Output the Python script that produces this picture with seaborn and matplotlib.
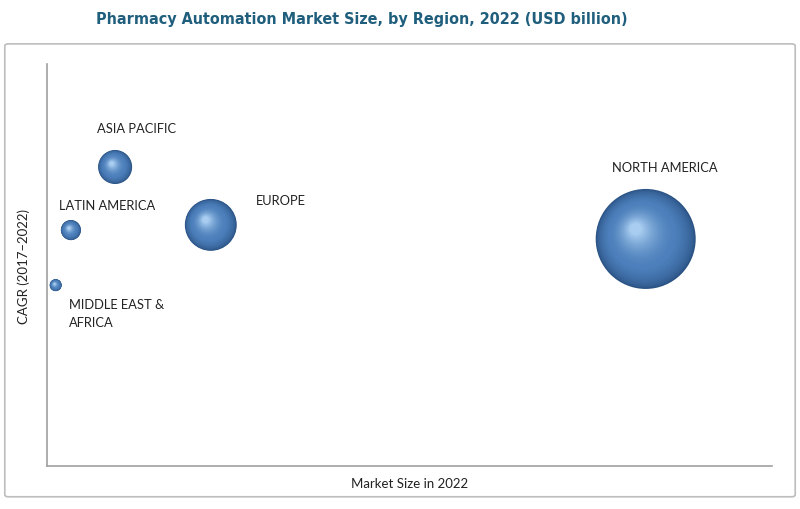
import numpy as np
import pandas as pd
import matplotlib
matplotlib.use("Agg")
import matplotlib.pyplot as plt
import seaborn as sns
from matplotlib.path import Path
from matplotlib.markers import MarkerStyle
from matplotlib.patches import FancyBboxPatch
from matplotlib.colors import to_rgb

# data (relative units)
regions = ["NORTH AMERICA", "EUROPE", "ASIA PACIFIC", "LATIN AMERICA", "MIDDLE EAST &\nAFRICA"]
market_size = [82.6, 22.6, 9.4, 3.3, 1.2]     # x position
cagr = [56.5, 60.0, 74.4, 58.7, 45.0]          # y position
bubble = [5.2, 1.4, 0.6, 0.21, 0.075]          # bubble area

df = pd.DataFrame({"region": regions, "size": market_size, "cagr": cagr, "bubble": bubble})

sns.set_style("white")
plt.rcParams["font.family"] = ["Lato", "DejaVu Sans"]

fig = plt.figure(figsize=(8, 5.1), dpi=100)
ax = fig.add_axes([0.05875, 0.0843, 0.906, 0.788])

# outer frame
fig.patches.append(FancyBboxPatch((0.006, 0.024), 0.988, 0.888, boxstyle="round,pad=0,rounding_size=0.004",
                                  transform=fig.transFigure, fill=False, edgecolor="#bdbdbd", linewidth=1.2))

lo, hi = 75, 5184
dark = np.array(to_rgb("#2a5283"))
mid = np.array(to_rgb("#4c7fbb"))
light = np.array(to_rgb("#a8cdf0"))

# shaded spheres: stack of shrinking circles shifted to the upper left
n_layers = 40
for i in range(n_layers):
    t = i / (n_layers - 1)
    rho = 1 - 0.88 * t
    d = 0.2 * t
    verts = Path.unit_circle().vertices * rho + np.array([-d, d])
    mk = MarkerStyle(Path(verts, Path.unit_circle().codes))
    ext = np.max(np.abs(verts))
    scale = ext ** 2
    if t < 0.35:
        c = dark + (mid - dark) * (t / 0.35) ** 0.6
    else:
        c = mid + (light - mid) * ((t - 0.35) / 0.65) ** 1.8
    sns.scatterplot(data=df, x="size", y="cagr", size="bubble", sizes=(lo * scale, hi * scale),
                    size_norm=(min(bubble), max(bubble)), marker=mk, color=tuple(c),
                    linewidth=0, edgecolor="none", legend=False, ax=ax, zorder=3 + i)

ax.set_xlim(0, 100)
ax.set_ylim(0, 100)
ax.set_xticks([])
ax.set_yticks([])
ax.set_xlabel("Market Size in 2022", fontsize=9.5, color="#222222", labelpad=8)
ax.set_ylabel("CAGR (2017\u20132022)", fontsize=9.5, color="#222222", labelpad=12)
for s in ["top", "right"]:
    ax.spines[s].set_visible(False)
for s in ["left", "bottom"]:
    ax.spines[s].set_color("#a0a0a0")
    ax.spines[s].set_linewidth(1.2)

# labels
label_pos = {
    "NORTH AMERICA": (85.3, 74.4, "center"),
    "EUROPE": (28.8, 66.2, "left"),
    "ASIA PACIFIC": (12.3, 84.2, "center"),
    "LATIN AMERICA": (1.7, 64.9, "left"),
    "MIDDLE EAST &\nAFRICA": (3.0, 38.0, "left"),
}
for r in regions:
    x, y, ha = label_pos[r]
    ax.text(x, y, r, ha=ha, va="center", fontsize=9.3, color="#222222", linespacing=1.6)

fig.text(0.452, 0.962, "Pharmacy Automation Market Size, by Region, 2022 (USD billion)",
         ha="center", va="center", fontsize=11.5, fontweight="bold", color="#1f5e7c",
         family="DejaVu Sans", fontstretch="condensed")

fig.savefig("out.png", dpi=100)
